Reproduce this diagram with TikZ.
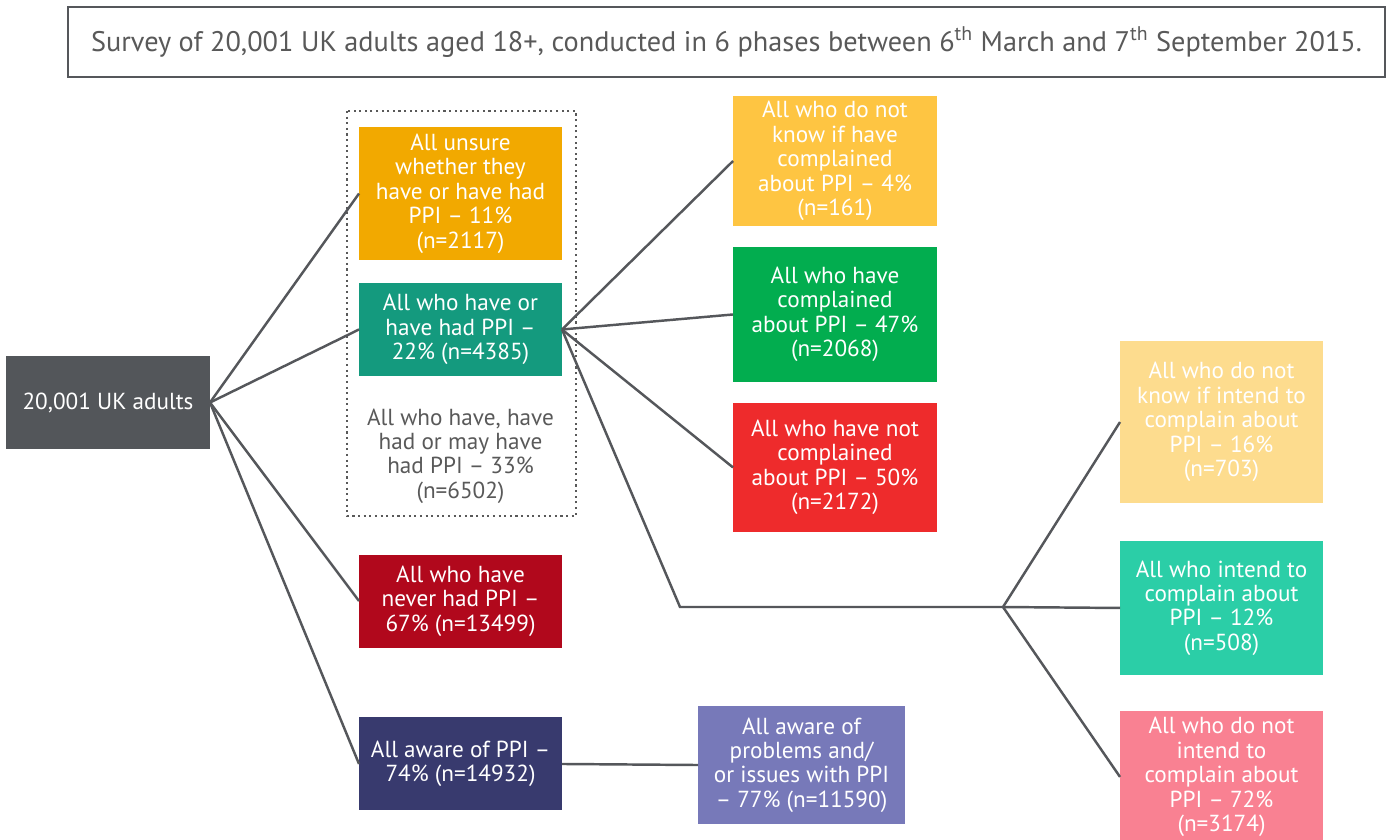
\documentclass[tikz,border=0pt]{standalone}
\usepackage{fontspec}
\setmainfont{PT Sans}
\usetikzlibrary{positioning}

\definecolor{linegray}{HTML}{55575B}
\definecolor{textgray}{HTML}{595959}
\definecolor{rootgray}{HTML}{53565A}
\definecolor{unsureorange}{HTML}{F2A900}
\definecolor{haveteal}{HTML}{149A7E}
\definecolor{neverred}{HTML}{B1081C}
\definecolor{awarenavy}{HTML}{383A6E}
\definecolor{problemviolet}{HTML}{7779B9}
\definecolor{dkyellow}{HTML}{FEC542}
\definecolor{compgreen}{HTML}{02AD4F}
\definecolor{notcompred}{HTML}{EE2B2C}
\definecolor{dkintyellow}{HTML}{FDDC8E}
\definecolor{intteal}{HTML}{2BCEA7}
\definecolor{notintpink}{HTML}{F98192}

\begin{document}
\begin{tikzpicture}[x=0.02cm,y=-0.02cm,line width=1.4pt,
    main node/.style={rectangle,align=center,text=white,inner sep=2pt,outer sep=0pt,minimum width=4.06cm,font=\fontsize{13.2}{13.9}\selectfont},
    link/.style={draw=linegray,line width=1.4pt}]
                \useasboundingbox (0,0) rectangle (1391,839);

                \node[draw=linegray,text=textgray,minimum width=26.34cm,minimum height=1.4cm,font=\fontsize{16.1}{18}\selectfont] (0) at (726.5,42)
                    {Survey of 20,001 UK adults aged 18+, conducted in 6 phases between 6\textsuperscript{th} March and 7\textsuperscript{th} September 2015.};

                \node[main node,fill=rootgray,minimum width=4.08cm,minimum height=1.86cm] (1) at (108,402.5) {20,001 UK adults};
                \node[main node,fill=unsureorange,minimum height=2.66cm] (2) at (460.5,193.5) {All unsure\\whether they\\have or have had\\PPI – 11\%\\(n=2117)};
                \node[main node,fill=haveteal,minimum height=1.86cm] (3) [below=0.46cm of 2] {All who have or\\have had PPI –\\22\% (n=4385)};
                \node[main node,text=textgray] (13) at (460.5,456) {All who have, have\\had or may have\\had PPI – 33\%\\(n=6502)};
                \node[main node,fill=neverred,minimum height=1.86cm] (4) at (460.5,601) {All who have\\never had PPI –\\67\% (n=13499)};
                \node[main node,fill=awarenavy,minimum height=1.86cm] (5) [below=1.4cm of 4] {All aware of PPI –\\74\% (n=14932)};
                \node[main node,fill=problemviolet,minimum width=4.14cm,minimum height=2.36cm] (6) at (801.5,765) {All aware of\\problems and/\\or issues with PPI\\– 77\% (n=11590)};

                \node[main node,fill=dkyellow,minimum width=4.08cm,minimum height=2.6cm] (7) at (835,161) {All who do not\\know if have\\complained\\about PPI – 4\%\\(n=161)};
                \node[main node,fill=compgreen,minimum width=4.08cm,minimum height=2.7cm] (8) [below=0.42cm of 7] {All who have\\complained\\about PPI – 47\%\\(n=2068)};
                \node[main node,fill=notcompred,minimum width=4.08cm,minimum height=2.58cm] (9) [below=0.42cm of 8] {All who have not\\complained\\about PPI – 50\%\\(n=2172)};

                \node[main node,fill=dkintyellow,minimum height=3.24cm] (10) at (1221.5,422) {All who do not\\know if intend to\\complain about\\PPI – 16\%\\(n=703)};
                \node[main node,fill=intteal,minimum height=2.68cm] (11) [below=0.76cm of 10] {All who intend to\\complain about\\PPI – 12\%\\(n=508)};
                \node[main node,fill=notintpink,minimum height=2.64cm] (12) [below=0.72cm of 11] {All who do not\\intend to\\complain about\\PPI – 72\%\\(n=3174)};

                % grouping of the first two answers
                \draw[draw=textgray,line width=1.2pt,dotted] (347,111) rectangle (576,516);

                \coordinate (a) at (680,607);
                \coordinate (b) at (1003,607);

                \path[link]
                    (1.east) edge (2.west)
                    (1.east) edge (3.west)
                    (1.east) edge (4.west)
                    (1.east) edge (5.west)
                    (5.east) edge (6.west)
                    ;

                \path[link]
                    (3.east) edge (7.west)
                    (3.east) edge (8.west)
                    (3.east) edge (9.west)
                    (b) edge (10.west)
                    (b) edge (11.west)
                    (b) edge (12.west)
                ;
                \draw[link] (3.east) -- (a) -- (b);
            \end{tikzpicture}
\end{document}
